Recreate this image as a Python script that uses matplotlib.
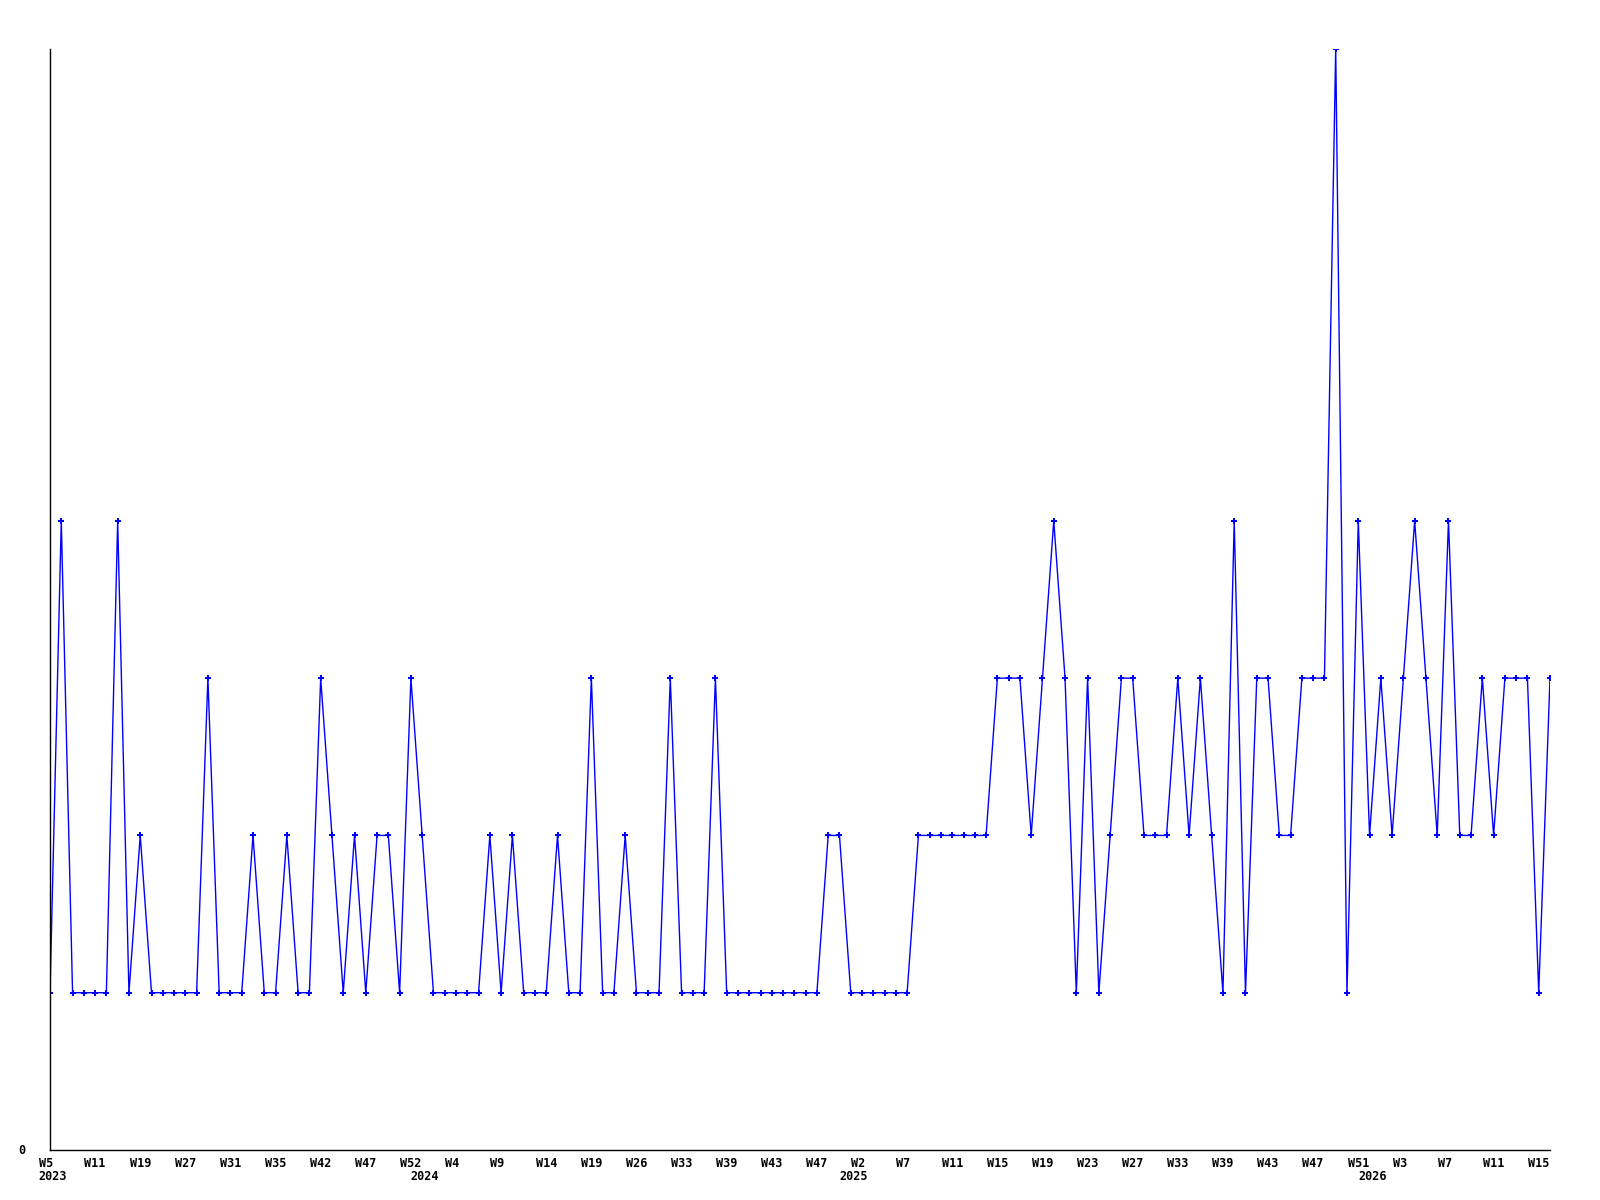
import matplotlib
matplotlib.use("Agg")
import matplotlib.pyplot as plt

# ---- data ----
values = [1, 4, 1, 1, 1, 1, 4, 1, 2, 1, 1, 1, 1, 1, 3, 1, 1, 1, 2, 1, 1, 2, 1, 1, 3,
          2, 1, 2, 1, 2, 2, 1, 3, 2, 1, 1, 1, 1, 1, 2, 1, 2, 1, 1, 1, 2, 1, 1, 3, 1, 1,
          2, 1, 1, 1, 3, 1, 1, 1, 3, 1, 1, 1, 1, 1, 1, 1, 1, 1, 2, 2, 1, 1, 1, 1, 1, 1,
          2, 2, 2, 2, 2, 2, 2, 3, 3, 3, 2, 3, 4, 3, 1, 3, 1, 2, 3, 3, 2, 2, 2, 3, 2, 3,
          2, 1, 4, 1, 3, 3, 2, 2, 3, 3, 3, 7, 1, 4, 2, 3, 2, 3, 4, 3, 2, 4, 2, 2, 3, 2,
          3, 3, 3, 1, 3]
week_labels = ["W5", "W11", "W19", "W27", "W31", "W35", "W42", "W47", "W52",
               "W4", "W9", "W14", "W19", "W26", "W33", "W39", "W43", "W47",
               "W2", "W7", "W11", "W15", "W19", "W23", "W27", "W33", "W39", "W43", "W47", "W51",
               "W3", "W7", "W11", "W15"]
label_step = 4
year_labels = ["2023", "2024", "2025", "2026"]
year_index = [0, 33, 71, 117]

# ---- figure ----
fig = plt.figure(figsize=(16, 12), dpi=100)
ax = fig.add_axes([50 / 1600, 50 / 1200, 1500 / 1600, 1101 / 1200])

x = list(range(len(values)))
ax.plot(x, values, color="#0000ff", linewidth=1.0, marker="P", markersize=3.8,
        markeredgewidth=0, markerfacecolor="#0000ff", clip_on=True)

ax.set_xlim(0, len(values) - 1)
ax.set_ylim(0, 7)

for s in ["top", "right"]:
    ax.spines[s].set_visible(False)
for s in ["left", "bottom"]:
    ax.spines[s].set_color("black")
    ax.spines[s].set_linewidth(1.0)

font = dict(family="DejaVu Sans Mono", weight="bold", size=8.5)

ax.set_xticks(list(range(0, label_step * len(week_labels), label_step)))
ax.set_xticklabels([f"{w:<3}" for w in week_labels], fontdict=font)
ax.tick_params(axis="x", length=0, pad=4.8)

ax.set_yticks([0])
ax.set_yticklabels(["0"], fontdict=font)
ax.tick_params(axis="y", length=0, pad=17.5)
for lbl in ax.get_yticklabels():
    lbl.set_verticalalignment("center")

trans = ax.get_xaxis_transform()
for yi, yl in zip(year_index, year_labels):
    ax.text(yi + 0.25, -0.0241, yl, transform=trans, ha="center", va="center", **font)

fig.savefig("out.png", dpi=100, facecolor="white")
